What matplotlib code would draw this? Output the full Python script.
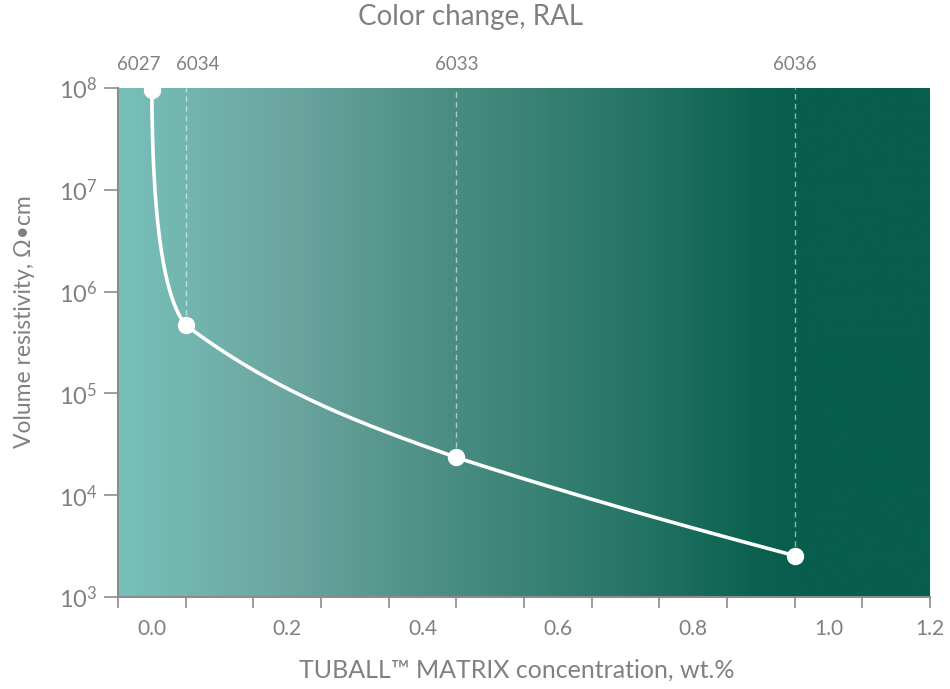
import numpy as np
import matplotlib
matplotlib.use("Agg")
import matplotlib.pyplot as plt
from matplotlib.colors import LinearSegmentedColormap

# ---------------- data ----------------
concentration = [0.0, 0.05, 0.45, 0.95]          # position on the x scale
resistivity = [9.6e7, 4.7e5, 2.35e4, 2.55e3]      # Ohm*cm
ral_codes = ["6027", "6034", "6033", "6036"]
x_tick_values = [0.0, 0.2, 0.4, 0.6, 0.8, 1.0, 1.15]
x_tick_labels = ["0.0", "0.2", "0.4", "0.6", "0.8", "1.0", "1.2"]
y_tick_values = [1e3, 1e4, 1e5, 1e6, 1e7, 1e8]
y_tick_exponents = [3, 4, 5, 6, 7, 8]

# ---------------- style ----------------
plt.rcParams['font.family'] = ['Lato', 'DejaVu Sans']
plt.rcParams['mathtext.fontset'] = 'custom'
plt.rcParams['mathtext.rm'] = 'Lato'
plt.rcParams['mathtext.it'] = 'Lato:italic'
plt.rcParams['mathtext.bf'] = 'Lato:bold'

TEXT = '#808080'
SPINE = '#8c8c8c'
W, H = 950, 689

# bezier handle fractions per segment (shape of the smooth line)
handles = [((0.016, 0.684), (0.475, 0.084)),
           ((1/3, 0.515), (1/3, 0.24)),
           ((1/3, 0.374), (1/3, 0.306))]

fig = plt.figure(figsize=(W/100, H/100), dpi=100)
ax = fig.add_axes([118/W, 1-597/H, (930-118)/W, (597-88)/H])

# background gradient
grad_stops = [(0.0, (120, 192, 186)), (0.2, (108, 166, 160)), (0.42, (72, 140, 128)),
              (0.65, (35, 115, 100)), (0.78, (12, 98, 80)), (0.84, (7, 94, 77)),
              (1.0, (7, 94, 77))]
cmap = LinearSegmentedColormap.from_list(
    'bg', [(p, tuple(c/255 for c in col)) for p, col in grad_stops])
ax.imshow(np.linspace(0, 1, 512)[None, :], cmap=cmap, aspect='auto',
          extent=[0, 1, 0, 1], transform=ax.transAxes, zorder=0)

ax.set_yscale('log')
ax.set_xlim(-0.05, 1.15)
ax.set_ylim(1e3, 1e8)

# smooth line through points, built in (x, log10 y) space
lx = np.array(concentration)
ly = np.log10(resistivity)
xs, ys = [], []
t = np.linspace(0, 1, 80)[:, None]
for i in range(len(lx) - 1):
    p0 = np.array([lx[i], ly[i]])
    p3 = np.array([lx[i+1], ly[i+1]])
    d = p3 - p0
    (a1, b1), (a2, b2) = handles[i]
    p1 = p0 + np.array([a1*d[0], b1*d[1]])
    p2 = p3 - np.array([a2*d[0], b2*d[1]])
    pts = ((1-t)**3)*p0 + 3*((1-t)**2)*t*p1 + 3*(1-t)*(t**2)*p2 + (t**3)*p3
    xs.append(pts[:, 0]); ys.append(pts[:, 1])
xs = np.concatenate(xs); ys = np.concatenate(ys)

# dashed guides
ax.vlines(concentration, resistivity, 1e8, colors='white', alpha=0.55,
          linestyles=(0, (4, 3)), linewidth=1.0, zorder=2)

ax.plot(xs, 10**ys, color='white', lw=2.6, zorder=3, solid_capstyle='round')
ax.plot(concentration, resistivity, 'o', color='white', ms=11.5, zorder=4,
        clip_on=True)

# spines
for s in ['top', 'right']:
    ax.spines[s].set_visible(False)
for s in ['left', 'bottom']:
    ax.spines[s].set_color(SPINE)
    ax.spines[s].set_linewidth(1.5)

# y ticks
ax.yaxis.set_minor_locator(matplotlib.ticker.NullLocator())
ax.set_yticks(y_tick_values)
ax.set_yticklabels([r'$\mathregular{10^{%d}}$' % e for e in y_tick_exponents])
ax.tick_params(axis='y', which='major', length=10, width=1.2, color=SPINE,
               labelcolor=TEXT, labelsize=17, pad=5)

# x ticks: labels without marks, marks on a 0.1 grid offset by half a step
ax.xaxis.remove_overlapping_locs = False
ax.set_xticks(x_tick_values)
ax.set_xticklabels(x_tick_labels)
ax.set_xticks(np.arange(-0.05, 1.151, 0.1), minor=True)
ax.tick_params(axis='x', which='major', length=0, labelcolor=TEXT,
               labelsize=15, pad=16)
ax.tick_params(axis='x', which='minor', length=8, width=1.2, color=SPINE)

# top RAL labels
label_offsets_px = [-13, 12, 0, 0]
for xv, code, off in zip(concentration, ral_codes, label_offsets_px):
    ax.annotate(code, xy=(xv, 1), xycoords=('data', 'axes fraction'),
                xytext=(off*0.72, 24*0.72), textcoords='offset points',
                ha='center', va='center', fontsize=13.5, color=TEXT,
                annotation_clip=False)

fig.text(471/W, 1-17/H, 'Color change, RAL', ha='center', va='center',
         fontsize=20, color=TEXT)
fig.text(517/W, 1-670/H, 'TUBALL\u2122 MATRIX concentration, wt.%', ha='center',
         va='center', fontsize=18, color=TEXT)
fig.text(25/W, 1-322/H, 'Volume resistivity, \u03a9\u2022cm', ha='center',
         va='center', rotation=90, fontsize=16.5, color=TEXT)

fig.savefig('out.png', dpi=100)
